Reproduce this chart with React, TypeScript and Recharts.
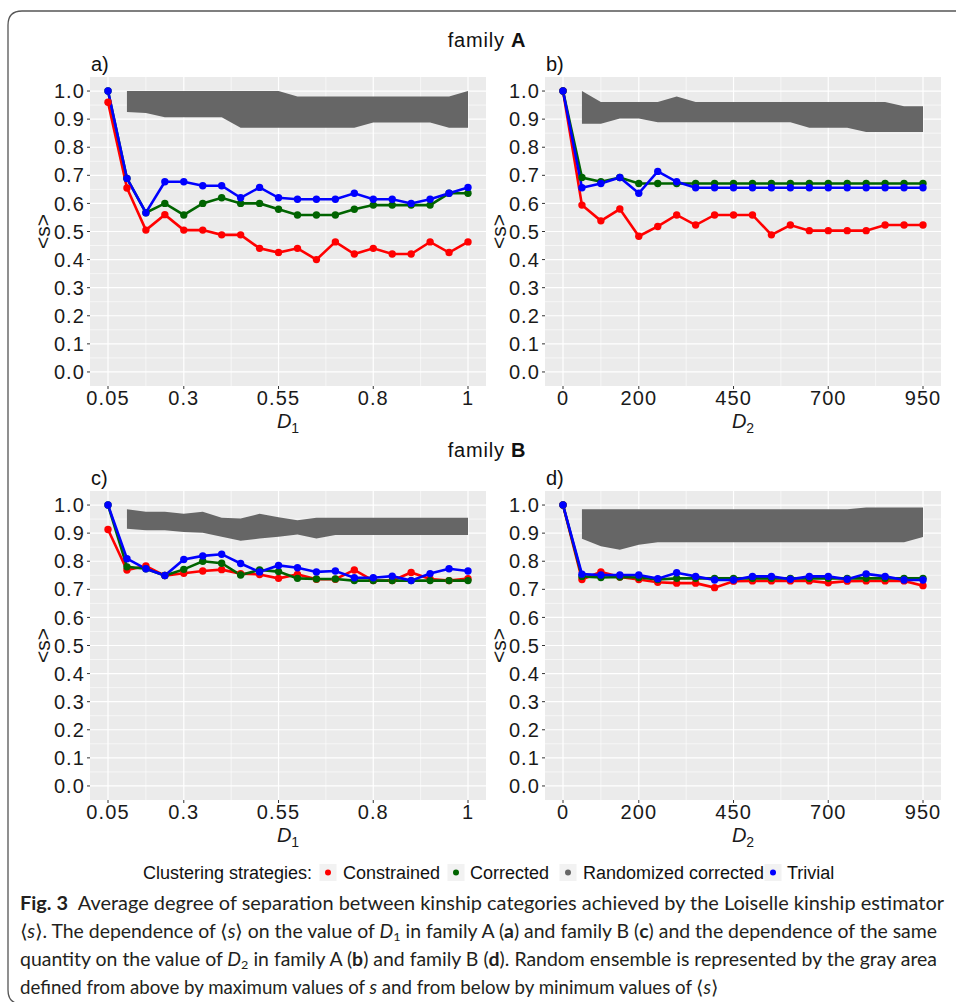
import React from 'react';
import { ComposedChart, Line, Area, XAxis, YAxis, CartesianGrid } from 'recharts';

// x positions (index of the D value) 1..20
const steps = [1, 2, 3, 4, 5, 6, 7, 8, 9, 10, 11, 12, 13, 14, 15, 16, 17, 18, 19, 20];
const xMajorSteps = [1, 5, 10, 15, 20];
const xMinorSteps = [3, 7.5, 12.5, 17.5];
const d1TickLabels = ['0.05', '0.3', '0.55', '0.8', '1'];
const d2TickLabels = ['0', '200', '450', '700', '950'];
const yTicks = [0, 0.1, 0.2, 0.3, 0.4, 0.5, 0.6, 0.7, 0.8, 0.9, 1.0];
const yMinorTicks = [0.05, 0.15, 0.25, 0.35, 0.45, 0.55, 0.65, 0.75, 0.85, 0.95];

// family A, D1
const constrainedA1 = [0.96, 0.655, 0.505, 0.56, 0.505, 0.505, 0.488, 0.488, 0.44, 0.425, 0.44, 0.4, 0.463, 0.42, 0.44, 0.42, 0.42, 0.463, 0.425, 0.463];
const correctedA1 = [1.0, 0.689, 0.567, 0.6, 0.559, 0.6, 0.62, 0.6, 0.6, 0.579, 0.559, 0.559, 0.559, 0.579, 0.594, 0.594, 0.594, 0.594, 0.636, 0.636];
const trivialA1 = [1.0, 0.689, 0.567, 0.677, 0.677, 0.663, 0.663, 0.62, 0.657, 0.62, 0.615, 0.615, 0.615, 0.636, 0.615, 0.615, 0.6, 0.615, 0.636, 0.657];
const randLowA1 = [null, 0.925, 0.922, 0.907, 0.907, 0.907, 0.907, 0.869, 0.869, 0.869, 0.869, 0.869, 0.869, 0.869, 0.888, 0.888, 0.888, 0.888, 0.869, 0.869];
const randHighA1 = [null, 1.0, 1.0, 1.0, 1.0, 1.0, 1.0, 1.0, 1.0, 1.0, 0.981, 0.981, 0.981, 0.981, 0.981, 0.981, 0.981, 0.981, 0.981, 1.0];

// family A, D2
const constrainedA2 = [1.0, 0.594, 0.538, 0.58, 0.483, 0.518, 0.559, 0.523, 0.559, 0.559, 0.559, 0.488, 0.523, 0.503, 0.503, 0.503, 0.503, 0.523, 0.523, 0.523];
const correctedA2 = [1.0, 0.692, 0.677, 0.692, 0.671, 0.671, 0.671, 0.671, 0.671, 0.671, 0.671, 0.671, 0.671, 0.671, 0.671, 0.671, 0.671, 0.671, 0.671, 0.671];
const trivialA2 = [1.0, 0.656, 0.671, 0.692, 0.636, 0.714, 0.677, 0.656, 0.656, 0.656, 0.656, 0.656, 0.656, 0.656, 0.656, 0.656, 0.656, 0.656, 0.656, 0.656];
const randLowA2 = [null, 0.884, 0.884, 0.902, 0.902, 0.889, 0.889, 0.889, 0.889, 0.889, 0.889, 0.889, 0.889, 0.869, 0.869, 0.869, 0.854, 0.854, 0.854, 0.854];
const randHighA2 = [null, 1.0, 0.961, 0.961, 0.961, 0.961, 0.981, 0.961, 0.961, 0.961, 0.961, 0.961, 0.961, 0.961, 0.961, 0.961, 0.961, 0.961, 0.946, 0.946];

// family B, D1
const constrainedB1 = [0.913, 0.769, 0.783, 0.749, 0.757, 0.765, 0.77, 0.756, 0.753, 0.739, 0.753, 0.736, 0.736, 0.769, 0.731, 0.731, 0.76, 0.737, 0.731, 0.738];
const correctedB1 = [1.0, 0.78, 0.773, 0.749, 0.771, 0.8, 0.793, 0.751, 0.769, 0.763, 0.739, 0.737, 0.737, 0.731, 0.731, 0.731, 0.731, 0.731, 0.731, 0.731];
const trivialB1 = [1.0, 0.809, 0.773, 0.749, 0.806, 0.819, 0.825, 0.792, 0.762, 0.785, 0.777, 0.762, 0.765, 0.741, 0.741, 0.747, 0.731, 0.756, 0.773, 0.765];
const randLowB1 = [null, 0.916, 0.91, 0.91, 0.904, 0.901, 0.887, 0.873, 0.881, 0.887, 0.895, 0.881, 0.893, 0.893, 0.893, 0.893, 0.893, 0.893, 0.893, 0.893];
const randHighB1 = [null, 0.985, 0.976, 0.976, 0.969, 0.976, 0.955, 0.952, 0.969, 0.957, 0.946, 0.955, 0.955, 0.955, 0.955, 0.955, 0.955, 0.955, 0.955, 0.955];

// family B, D2
const constrainedB2 = [1.0, 0.735, 0.762, 0.744, 0.735, 0.725, 0.722, 0.722, 0.706, 0.729, 0.73, 0.73, 0.73, 0.73, 0.723, 0.729, 0.73, 0.73, 0.73, 0.713];
const correctedB2 = [1.0, 0.746, 0.742, 0.744, 0.742, 0.735, 0.739, 0.739, 0.739, 0.739, 0.739, 0.739, 0.739, 0.739, 0.739, 0.739, 0.739, 0.739, 0.739, 0.739];
const trivialB2 = [1.0, 0.754, 0.751, 0.751, 0.751, 0.738, 0.759, 0.746, 0.733, 0.733, 0.746, 0.746, 0.736, 0.746, 0.746, 0.736, 0.755, 0.746, 0.733, 0.733];
const randLowB2 = [null, 0.88, 0.853, 0.841, 0.859, 0.868, 0.868, 0.868, 0.868, 0.868, 0.868, 0.868, 0.868, 0.868, 0.868, 0.868, 0.868, 0.868, 0.868, 0.886];
const randHighB2 = [null, 0.985, 0.985, 0.985, 0.985, 0.985, 0.985, 0.985, 0.985, 0.985, 0.985, 0.985, 0.985, 0.985, 0.985, 0.985, 0.991, 0.991, 0.991, 0.991];

const COLORS = { constrained: '#FF0000', corrected: '#006400', randomized: '#666666', trivial: '#0000FF' };

function buildRows(c: number[], g: number[], t: number[], lo: (number | null)[], hi: (number | null)[]) {
  return steps.map((s, i) => ({
    step: s,
    constrained: c[i],
    corrected: g[i],
    trivial: t[i],
    band: lo[i] == null || hi[i] == null ? null : [lo[i], hi[i]],
  }));
}

const PLOT_W = 396;
const PLOT_H = 309;
const PAD_L = 90;
const PAD_T = 10;
const PAD_R = 10;
const PAD_B = 34;

const tickStyle = { fill: '#1a1a1a', fontSize: 20, fontFamily: '"Liberation Sans", Arial, sans-serif', letterSpacing: 1.1 };

function Panel({ left, top, data, tickLabels }: { left: number; top: number; data: any[]; tickLabels: string[] }) {
  return (
    <div style={{ position: 'absolute', left: left - PAD_L, top: top - PAD_T }}>
      <ComposedChart
        width={PAD_L + PLOT_W + PAD_R}
        height={PAD_T + PLOT_H + PAD_B}
        data={data}
        margin={{ top: PAD_T, right: PAD_R, left: 0, bottom: 0 }}
      >
        <CartesianGrid fill="#EBEBEB" stroke="#FFFFFF" strokeWidth={0.6} horizontalValues={yMinorTicks} verticalValues={xMinorSteps} />
        <CartesianGrid stroke="#FFFFFF" strokeWidth={1.2} horizontalValues={yTicks} verticalValues={xMajorSteps} />
        <XAxis
          type="number"
          dataKey="step"
          domain={[0.05, 20.95]}
          ticks={xMajorSteps}
          interval={0}
          allowDataOverflow
          tickFormatter={(v: number) => tickLabels[xMajorSteps.indexOf(v)] ?? ''}
          height={PAD_B}
          axisLine={false}
          tickSize={3}
          tickMargin={2}
          tickLine={{ stroke: '#333333' }}
          tick={tickStyle}
        />
        <YAxis
          type="number"
          domain={[-0.05, 1.05]}
          ticks={yTicks}
          interval={0}
          allowDataOverflow
          tickFormatter={(v: number) => v.toFixed(1)}
          width={PAD_L}
          axisLine={false}
          tickSize={3}
          tickMargin={2}
          tickLine={{ stroke: '#333333' }}
          tick={tickStyle}
        />
        <Area
          type="linear"
          dataKey="band"
          fill={COLORS.randomized}
          fillOpacity={1}
          stroke="none"
          isAnimationActive={false}
          activeDot={false}
        />
        <Line type="linear" dataKey="constrained" stroke={COLORS.constrained} strokeWidth={2.6}
          dot={{ r: 3.7, fill: COLORS.constrained, stroke: COLORS.constrained, strokeWidth: 0 }} activeDot={false} isAnimationActive={false} />
        <Line type="linear" dataKey="corrected" stroke={COLORS.corrected} strokeWidth={2.6}
          dot={{ r: 3.7, fill: COLORS.corrected, stroke: COLORS.corrected, strokeWidth: 0 }} activeDot={false} isAnimationActive={false} />
        <Line type="linear" dataKey="trivial" stroke={COLORS.trivial} strokeWidth={2.6}
          dot={{ r: 3.7, fill: COLORS.trivial, stroke: COLORS.trivial, strokeWidth: 0 }} activeDot={false} isAnimationActive={false} />
      </ComposedChart>
    </div>
  );
}

const SANS = '"Liberation Sans", Arial, sans-serif';
const CAPTION_FONT = 'Lato, "Noto Sans", sans-serif';

function AxisTitleX({ cx, y, sub }: { cx: number; y: number; sub: string }) {
  return (
    <text x={cx} y={y} textAnchor="middle" fontFamily={SANS} fontSize={20} fill="#1a1a1a">
      <tspan fontStyle="italic">D</tspan>
      <tspan fontSize={14} dy={5}>{sub}</tspan>
    </text>
  );
}

function AxisTitleY({ x, cy }: { x: number; cy: number }) {
  return (
    <text x={x} y={cy} textAnchor="middle" dominantBaseline="central" fontFamily={SANS} fontSize={21} fill="#1a1a1a"
      transform={`rotate(-90 ${x} ${cy})`}>
      {'<s>'}
    </text>
  );
}

export default function App() {
  const rowsA1 = buildRows(constrainedA1, correctedA1, trivialA1, randLowA1, randHighA1);
  const rowsA2 = buildRows(constrainedA2, correctedA2, trivialA2, randLowA2, randHighA2);
  const rowsB1 = buildRows(constrainedB1, correctedB1, trivialB1, randLowB1, randHighB1);
  const rowsB2 = buildRows(constrainedB2, correctedB2, trivialB2, randLowB2, randHighB2);

  const leftX = 90;
  const rightX = 545;
  const topA = 77;
  const topB = 491;

  const legendItems = [
    { label: 'Constrained', color: COLORS.constrained, dotX: 328, textX: 343 },
    { label: 'Corrected', color: COLORS.corrected, dotX: 456, textX: 470 },
    { label: 'Randomized corrected', color: COLORS.randomized, dotX: 568, textX: 583 },
    { label: 'Trivial', color: COLORS.trivial, dotX: 773, textX: 787 },
  ];

  return (
    <div style={{ position: 'absolute', left: 0, top: 0, width: 956, height: 1002, background: '#fff', overflow: 'hidden' }}>
      <Panel left={leftX} top={topA} data={rowsA1} tickLabels={d1TickLabels} />
      <Panel left={rightX} top={topA} data={rowsA2} tickLabels={d2TickLabels} />
      <Panel left={leftX} top={topB} data={rowsB1} tickLabels={d1TickLabels} />
      <Panel left={rightX} top={topB} data={rowsB2} tickLabels={d2TickLabels} />

      <svg width={956} height={1002} style={{ position: 'absolute', left: 0, top: 0, pointerEvents: 'none' }}>
        {/* frame */}
        <path d="M 956 11 H 22 Q 8 11 8 25 V 990 Q 8 1004 22 1004" fill="none" stroke="#555" strokeWidth={1.3} />

        {/* group titles */}
        <text x={487} y={47} textAnchor="middle" fontFamily={SANS} fontSize={20} fill="#111" letterSpacing={0.8}>
          family <tspan fontWeight="bold">A</tspan>
        </text>
        <text x={487} y={457} textAnchor="middle" fontFamily={SANS} fontSize={20} fill="#111" letterSpacing={0.8}>
          family <tspan fontWeight="bold">B</tspan>
        </text>

        {/* panel tags */}
        <text x={91} y={71} fontFamily={SANS} fontSize={20} fill="#111">a)</text>
        <text x={546} y={71} fontFamily={SANS} fontSize={20} fill="#111">b)</text>
        <text x={91} y={485} fontFamily={SANS} fontSize={20} fill="#111">c)</text>
        <text x={546} y={485} fontFamily={SANS} fontSize={20} fill="#111">d)</text>

        {/* axis titles */}
        <AxisTitleY x={42} cy={topA + PLOT_H / 2} />
        <AxisTitleY x={498} cy={topA + PLOT_H / 2} />
        <AxisTitleY x={42} cy={topB + PLOT_H / 2} />
        <AxisTitleY x={498} cy={topB + PLOT_H / 2} />
        <AxisTitleX cx={leftX + PLOT_W / 2} y={428} sub="1" />
        <AxisTitleX cx={rightX + PLOT_W / 2} y={428} sub="2" />
        <AxisTitleX cx={leftX + PLOT_W / 2} y={842} sub="1" />
        <AxisTitleX cx={rightX + PLOT_W / 2} y={842} sub="2" />

        {/* legend */}
        <text x={143} y={879} fontFamily={SANS} fontSize={18} fill="#111">Clustering strategies:</text>
        {legendItems.map((it) => (
          <g key={it.label}>
            <rect x={it.dotX - 8.5} y={864} width={17} height={17} fill="#F2F2F2" />
            <circle cx={it.dotX} cy={872.5} r={3} fill={it.color} />
            <text x={it.textX} y={879} fontFamily={SANS} fontSize={18} fill="#111">{it.label}</text>
          </g>
        ))}

        {/* caption */}
        <g fontFamily={CAPTION_FONT} fontSize={18.5} fill="#231f20">
          <text x={20} y={910} textLength={924} lengthAdjust="spacingAndGlyphs">
            <tspan fontWeight="bold">Fig. 3</tspan>
            <tspan dx={9}>{'Average degree of separation between kinship categories achieved by the Loiselle kinship estimator'}</tspan>
          </text>
          <text x={20} y={938} textLength={917} lengthAdjust="spacingAndGlyphs">
            <tspan>⟨</tspan><tspan fontStyle="italic">s</tspan><tspan>{'⟩. The dependence of ⟨'}</tspan><tspan fontStyle="italic">s</tspan>
            <tspan>{'⟩ on the value of '}</tspan><tspan fontStyle="italic">D</tspan><tspan fontSize={12} dy={3}>1</tspan>
            <tspan dy={-3}>{' in family A ('}</tspan><tspan fontWeight="bold">a</tspan><tspan>{') and family B ('}</tspan>
            <tspan fontWeight="bold">c</tspan><tspan>{') and the dependence of the same'}</tspan>
          </text>
          <text x={20} y={966} textLength={917} lengthAdjust="spacingAndGlyphs">
            <tspan>{'quantity on the value of '}</tspan><tspan fontStyle="italic">D</tspan><tspan fontSize={12} dy={3}>2</tspan>
            <tspan dy={-3}>{' in family A ('}</tspan><tspan fontWeight="bold">b</tspan><tspan>{') and family B ('}</tspan>
            <tspan fontWeight="bold">d</tspan><tspan>{'). Random ensemble is represented by the gray area'}</tspan>
          </text>
          <text x={20} y={994} textLength={698} lengthAdjust="spacingAndGlyphs">
            <tspan>{'defined from above by maximum values of '}</tspan><tspan fontStyle="italic">s</tspan>
            <tspan>{' and from below by minimum values of ⟨'}</tspan><tspan fontStyle="italic">s</tspan><tspan>⟩</tspan>
          </text>
        </g>
      </svg>
    </div>
  );
}
